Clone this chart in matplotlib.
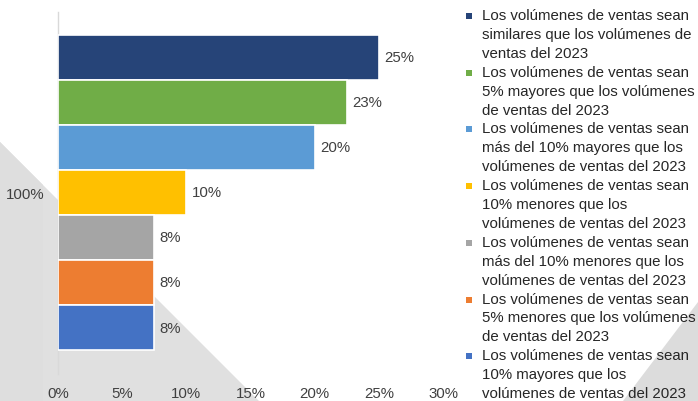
import matplotlib
matplotlib.use("Agg")
from matplotlib import pyplot as plt
from matplotlib.patches import Polygon, Rectangle

plt.rcParams['font.family'] = ['Liberation Sans', 'DejaVu Sans']

# data, top bar first
values = [25, 22.5, 20, 10, 7.5, 7.5, 7.5]
value_labels = ['25%', '23%', '20%', '10%', '8%', '8%', '8%']
colors = ['#264478', '#70AD47', '#5B9BD5', '#FFC000', '#A5A5A5', '#ED7D31', '#4472C4']
labels = [
	"Los volúmenes de ventas sean\nsimilares que los volúmenes de\nventas del 2023",
	"Los volúmenes de ventas sean\n5% mayores que los volúmenes\nde ventas del 2023",
	"Los volúmenes de ventas sean\nmás del 10% mayores que los\nvolúmenes de ventas del 2023",
	"Los volúmenes de ventas sean\n10% menores que los\nvolúmenes de ventas del 2023",
	"Los volúmenes de ventas sean\nmás del 10% menores que los\nvolúmenes de ventas del 2023",
	"Los volúmenes de ventas sean\n5% menores que los volúmenes\nde ventas del 2023",
	"Los volúmenes de ventas sean\n10% mayores que los\nvolúmenes de ventas del 2023",
]
category = '100%'
x_ticks = [0, 5, 10, 15, 20, 25, 30]

W, H = 698, 402
text_color = '#404040'
fs = 10.8


def fx(px):
	return px / W


def fy(py):
	return 1 - py / H


fig = plt.figure(figsize=(W / 100, H / 100), dpi=100)
fig.patch.set_facecolor('white')

# grey background shapes
fig.add_artist(Polygon([(fx(0), fy(143)), (fx(259), fy(402)), (fx(0), fy(402))],
	closed=True, transform=fig.transFigure, facecolor='#e0e0e0', edgecolor='none', zorder=0))
fig.add_artist(Polygon([(fx(0), fy(402)), (fx(43), fy(402)), (fx(43), fy(186)), (fx(0), fy(143))],
	closed=True, transform=fig.transFigure, facecolor='#dedede', edgecolor='none', zorder=0))
fig.add_artist(Polygon([(fx(698), fy(303)), (fx(623), fy(402)), (fx(698), fy(402))],
	closed=True, transform=fig.transFigure, facecolor='#dcdcdc', edgecolor='none', zorder=0))

ax = fig.add_axes([fx(58), fy(375), fx(443) - fx(58), fy(13) - fy(375)])
ax.set_facecolor('none')

ypos = list(range(len(values)))
ax.barh(ypos, values, height=1.0, color=colors, edgecolor='white', linewidth=1.2, zorder=3)
for y, v, lab in zip(ypos, values, value_labels):
	ax.text(v + 0.4, y, lab, va='center', ha='left', fontsize=fs, color=text_color)

ax.set_xlim(0, 30)
ax.set_ylim(7.03, -1.0)
ax.set_xticks(x_ticks)
ax.set_xticklabels([f'{t}%' for t in x_ticks], fontsize=fs, color=text_color)
ax.set_yticks([3])
ax.set_yticklabels([category], fontsize=fs, color=text_color)
ax.tick_params(axis='both', length=0)
ax.tick_params(axis='x', pad=9)
ax.tick_params(axis='y', pad=10)
for s in ['top', 'right', 'bottom']:
	ax.spines[s].set_visible(False)
ax.spines['left'].set_color('#d9d9d9')
ax.spines['left'].set_linewidth(1)

# legend drawn by hand so markers sit on the first line
for i, (lab, c) in enumerate(zip(labels, colors)):
	top = 9 + i * 56.7
	fig.add_artist(Rectangle((fx(466), fy(top + 11)), fx(6), 6 / H,
		transform=fig.transFigure, facecolor=c, edgecolor='none'))
	fig.text(fx(482), fy(top), lab, ha='left', va='top', fontsize=fs,
		color='#262626', linespacing=1.45)

fig.savefig('out.png', dpi=100)
